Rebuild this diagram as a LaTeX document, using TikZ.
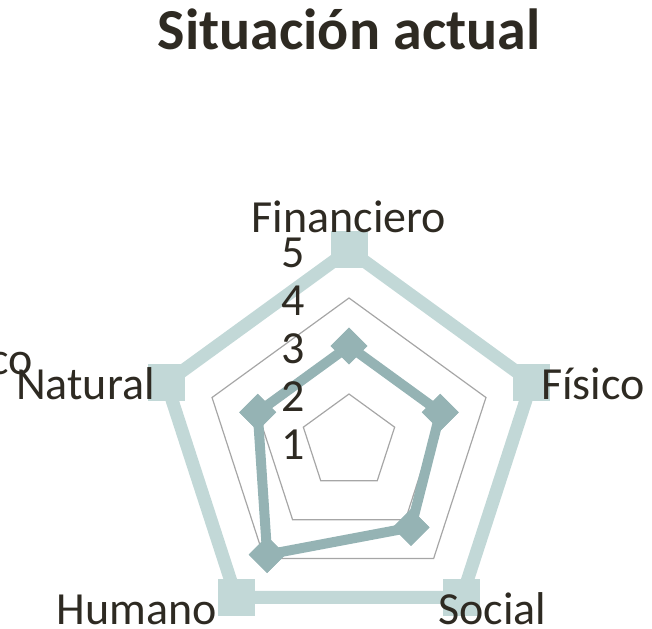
\documentclass[tikz,border=0pt]{standalone}
\usepackage{fontspec}
\setmainfont{Carlito}
\usetikzlibrary{shapes.geometric}
\definecolor{ideal}{HTML}{C2D8D7}
\definecolor{actual}{HTML}{95B3B4}
\definecolor{ink}{HTML}{2E2A22}
\definecolor{rejilla}{HTML}{A6A6A6}
\tikzset{
  cuadro/.style={rectangle,fill=ideal,inner sep=0,minimum size=37pt},
  rombo/.style={diamond,fill=actual,inner sep=0,minimum size=37pt},
  eje/.style={inner sep=0,text=ink,font=\fontsize{46}{46}\selectfont},
  malla/.style={draw=rejilla,line width=1.2pt,line join=miter}
}
\begin{document}
\begin{tikzpicture}[x=1pt,y=1pt]
\useasboundingbox (-349,-186) rectangle (303,442);
% grid
\foreach \v in {2,3,4}
  \draw[malla] (90:{(\v-1)*48}) -- (18:{(\v-1)*48}) -- (-54:{(\v-1)*48})
    -- (-126:{(\v-1)*48}) -- (162:{(\v-1)*48}) -- cycle;
%ideal
  \node[cuadro] (A) at (90:192) {};
  \node[cuadro] (B) at (18:192) {};
  \node[cuadro] (C) at (-54:192) {};
  \node[cuadro] (D) at (-126:192) {};
  \node[cuadro] (E) at (162:192) {};
  \draw[ideal,line width=13pt,line join=round] (A.center) -- (B.center) -- (C.center) -- (D.center) -- (E.center) -- cycle;
  \foreach \n in {A,B,C,D,E}
    \node[cuadro] at (\n) {};
%actual
  \node[rombo] (Aa) at (90:96) {};
  \node[rombo] (Bb) at (18:96) {};
  \node[rombo] (Cc) at (-54:105.6) {};
  \node[rombo] (Dd) at (-126:139.2) {};
  \node[rombo] (Ee) at (162:96) {};
  \draw[actual,line width=10pt,line join=round] (Aa.center) -- (Bb.center) -- (Cc.center) -- (Dd.center) -- (Ee.center) -- cycle;
  \foreach \n in {Aa,Bb,Cc,Dd,Ee}
    \node[rombo] at (\n) {};
% scale
  \foreach \v in {1,...,5}
    \node[eje,anchor=base east] (n\v) at (-44,{(\v-1)*48-18}) {\v};
% labels
  \node[eje,anchor=base] (Aaa) at (0,209) {Financiero};
  \node[eje,anchor=base west] (Bbb) at (192,42) {Físico};
  \node[eje,anchor=base west] (Ccc) at (89,-182) {Social};
  \node[eje,anchor=base east] (Ddd) at (-132,-182) {Humano};
  \node[eje,anchor=base east] (Eee) at (-194,42) {Natural};
  \node[eje,anchor=base east] (o) at (-316,67) {co};
% title
  \node[inner sep=0,anchor=base,text=ink,font=\bfseries\fontsize{58}{58}\selectfont] (t) at (0,392) {Situación actual};
\end{tikzpicture}
\end{document}
